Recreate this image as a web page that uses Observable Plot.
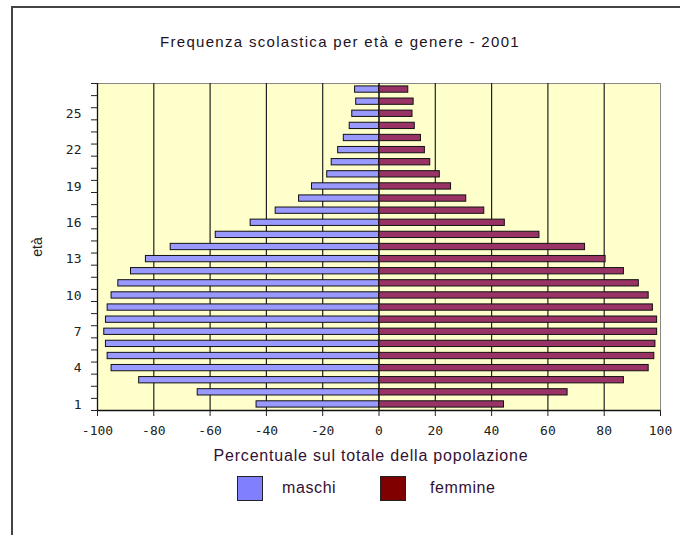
<!DOCTYPE html>
<html>
<head>
<meta charset="utf-8">
<script src="https://cdn.jsdelivr.net/npm/d3@7"></script>
<script src="https://cdn.jsdelivr.net/npm/@observablehq/plot@0.6"></script>
<style>
  html, body { margin: 0; padding: 0; background: #fff; }
  #wrap { position: relative; width: 680px; height: 535px; overflow: hidden; font-family: "Liberation Sans", Arial, sans-serif; }
  #frame { position: absolute; left: 11px; top: 6px; width: 700px; height: 560px; border-left: 2px solid #444; border-top: 2px solid #444; }
  #title { position: absolute; top: 33px; left: 0; width: 680px; text-align: center; font-size: 15px; letter-spacing: 1.3px; color: #221122; }
  #chart { position: absolute; left: 0; top: 0; }
  #ylab { position: absolute; left: 37px; top: 247px; transform: translate(-50%, -50%) rotate(-90deg); font-size: 14px; color: #222; }
  #xlab { position: absolute; top: 447px; left: 31px; width: 680px; text-align: center; font-size: 16px; letter-spacing: 0.8px; color: #331133; }
  .sw { position: absolute; width: 24px; height: 23px; border: 1px solid #222; }
  .lt { position: absolute; font-size: 16px; color: #331133; letter-spacing: 0.6px; }
</style>
</head>
<body>
<div id="wrap">
  <div id="frame"></div>
  <div id="title"></div>
  <div id="chart"></div>
  <div id="ylab"></div>
  <div id="xlab"></div>
  <div id="leg"></div>
</div>
<script>
const titleText = "Frequenza scolastica per età e genere - 2001";
const xLabel = "Percentuale sul totale della popolazione";
const yLabel = "età";
const seriesNames = ["maschi", "femmine"];

const ages = [1, 2, 3, 4, 5, 6, 7, 8, 9, 10, 11, 12, 13, 14, 15, 16, 17, 18, 19, 20, 21, 22, 23, 24, 25, 26, 27];
const maschi = [-43.5, -64.4, -85.2, -95.0, -96.4, -97.0, -97.6, -97.0, -96.4, -95.0, -92.6, -88.1, -82.8, -74.0, -58.0, -45.6, -36.7, -28.4, -23.8, -18.4, -16.8, -14.5, -12.5, -10.4, -9.5, -8.1, -8.5];
const femmine = [44.4, 67.0, 87.0, 95.8, 97.8, 98.2, 98.8, 98.8, 97.3, 95.8, 92.3, 87.0, 80.5, 73.2, 57.0, 44.7, 37.4, 31.0, 25.6, 21.6, 18.2, 16.3, 14.9, 12.7, 11.9, 12.3, 10.4];

const xTicks = [-100, -80, -60, -40, -20, 0, 20, 40, 60, 80, 100];
const yTickLabels = [1, 4, 7, 10, 13, 16, 19, 22, 25];

const barColors = {maschi: "#9999FF", femmine: "#993366"};
const legendColors = {maschi: "#8080FF", femmine: "#800000"};

const rows = ages.map((a, i) => ({age: a, maschi: maschi[i], femmine: femmine[i]}));
const boundaries = [ages[0] - 0.5, ...ages.map(a => a + 0.5)];
const half = 0.26;

const chart = Plot.plot({
  width: 680,
  height: 470,
  marginLeft: 97,
  marginRight: 20,
  marginTop: 83,
  marginBottom: 60,
  style: {background: "transparent", fontFamily: "'DejaVu Sans Mono', monospace", fontSize: "13px", color: "#222"},
  x: {domain: [-100, 100], label: null},
  y: {domain: [ages[0] - 0.5, ages[ages.length - 1] + 0.5], label: null},
  marks: [
    Plot.frame({fill: "#FFFFCC", stroke: "#888"}),
    Plot.ruleX(xTicks.filter(v => Math.abs(v) < 100), {stroke: "#222", strokeWidth: 1.2}),
    Plot.rectX(rows, {x1: 0, x2: "maschi", y1: d => d.age - half, y2: d => d.age + half, fill: barColors.maschi, stroke: "#111", strokeWidth: 1}),
    Plot.rectX(rows, {x1: 0, x2: "femmine", y1: d => d.age - half, y2: d => d.age + half, fill: barColors.femmine, stroke: "#111", strokeWidth: 1}),
    Plot.ruleX([0], {stroke: "#222", strokeWidth: 1.2}),
    Plot.ruleX([-100], {stroke: "#111", strokeWidth: 1.3}),
    Plot.ruleY([ages[0] - 0.5], {stroke: "#111", strokeWidth: 1.3}),
    Plot.axisX({ticks: xTicks, tickSize: 6, tickPadding: 9, label: null, tickFormat: d => String(d)}),
    Plot.axisY({ticks: boundaries, tickSize: 6, tickFormat: () => "", label: null}),
    Plot.axisY({ticks: yTickLabels, tickSize: 0, tickPadding: 16, label: null})
  ]
});
document.getElementById("chart").appendChild(chart);

document.getElementById("title").textContent = titleText;
document.getElementById("xlab").textContent = xLabel;
document.getElementById("ylab").textContent = yLabel;

const leg = document.getElementById("leg");
const legPos = [{sw: 237, tx: 282}, {sw: 380, tx: 430}];
seriesNames.forEach((name, i) => {
  const s = document.createElement("div");
  s.className = "sw";
  s.style.left = legPos[i].sw + "px";
  s.style.top = "476px";
  s.style.background = legendColors[name];
  leg.appendChild(s);
  const t = document.createElement("div");
  t.className = "lt";
  t.style.left = legPos[i].tx + "px";
  t.style.top = "479px";
  t.textContent = name;
  leg.appendChild(t);
});
</script>
</body>
</html>
